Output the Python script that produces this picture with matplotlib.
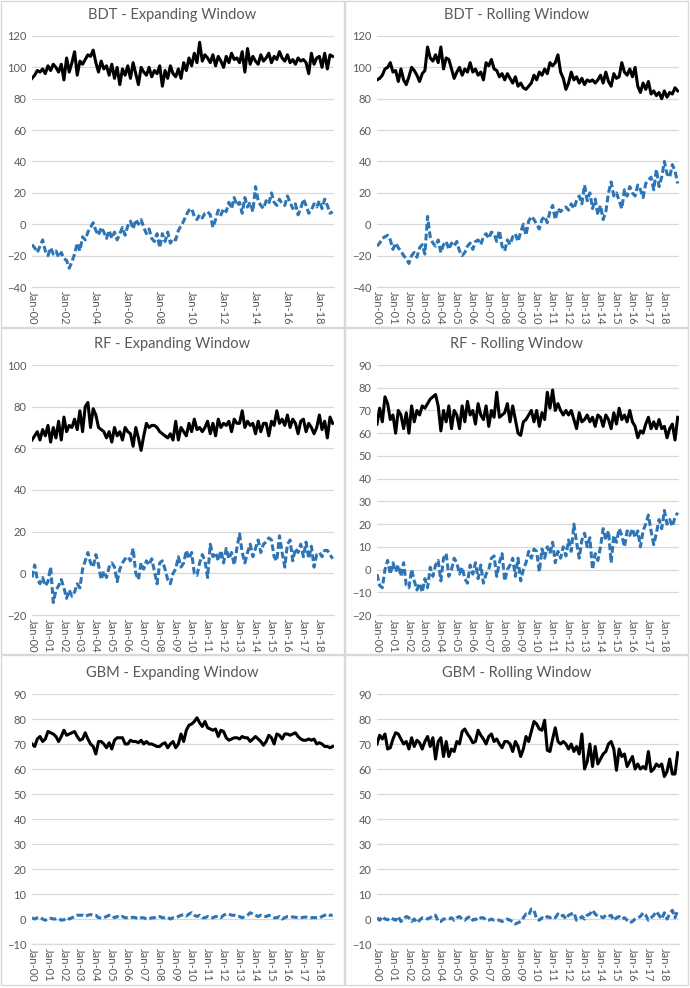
import numpy as np
import matplotlib.pyplot as plt
from matplotlib.patches import Rectangle

# values, one every two months from Jan-00 (6 per year)
bdt_exp_black = [93, 95, 98, 97, 99, 96,
                 101, 98, 102, 100, 97, 102,
                 92, 106, 97, 103, 110, 95,
                 104, 102, 105, 108, 107, 111,
                 103, 97, 104, 99, 101, 95,
                 102, 93, 100, 89, 99, 95,
                 101, 93, 103, 96, 89, 100,
                 97, 95, 100, 94, 98, 96,
                 101, 88, 98, 93, 101, 96,
                 94, 99, 93, 103, 98, 106,
                 101, 109, 103, 116, 104, 108,
                 106, 103, 108, 101, 107, 104,
                 100, 107, 103, 109, 105, 106,
                 103, 110, 97, 112, 102, 107,
                 104, 102, 108, 104, 106, 109,
                 103, 107, 105, 110, 106, 104,
                 108, 103, 105, 102, 106, 104,
                 105, 103, 96, 109, 102, 106,
                 107, 100, 109, 99, 108, 107]
bdt_exp_blue = [-13, -15, -18, -14, -10, -17,
                -20, -15, -19, -17, -21, -18,
                -22, -23, -28, -24, -19, -12,
                -17, -8, -10, -5, -2, 1,
                -4, -7, -2, -5, -9, -4,
                -9, -5, -10, -6, -2, -7,
                -1, 2, -3, 3, 0, 3,
                -2, -6, -3, -9, -11, -6,
                -15, -6, -11, -5, -12, -9,
                -10, -4, -1, 2, 6, 9,
                10, 5, 3, 6, 4, 7,
                8, 6, -2, 3, 9, 6,
                10, 8, 14, 10, 17, 12,
                14, 7, 17, 11, 14, 8,
                24, 15, 12, 10, 15, 13,
                20, 14, 12, 16, 13, 12,
                18, 14, 10, 13, 6, 10,
                16, 12, 7, 9, 13, 11,
                15, 10, 16, 12, 7, 8]

bdt_roll_black = [92, 93, 95, 99, 100, 103,
                  97, 98, 91, 99, 92, 89,
                  94, 100, 98, 95, 91, 96,
                  98, 113, 106, 104, 108, 103,
                  113, 99, 106, 105, 99, 93,
                  97, 100, 95, 99, 97, 103,
                  97, 99, 95, 97, 92, 103,
                  101, 105, 99, 98, 94, 96,
                  92, 96, 93, 90, 94, 88,
                  90, 87, 86, 88, 90, 95,
                  92, 97, 95, 99, 96, 103,
                  101, 103, 108, 97, 93, 86,
                  90, 97, 92, 94, 90, 93,
                  89, 92, 91, 92, 90, 92,
                  95, 90, 97, 91, 88, 96,
                  93, 94, 103, 97, 95, 99,
                  94, 100, 88, 84, 90, 86,
                  91, 83, 85, 82, 84, 80,
                  85, 81, 84, 83, 87, 85]
bdt_roll_blue = [-14, -12, -9, -8, -7, -10,
                 -16, -12, -15, -17, -20, -22,
                 -25, -20, -18, -21, -15, -13,
                 -19, 5, -8, -12, -14, -10,
                 -18, -13, -11, -16, -12, -14,
                 -11, -17, -20, -18, -14, -12,
                 -16, -11, -10, -13, -8, -6,
                 -9, -5, -6, -11, -4, -14,
                 -17, -10, -13, -8, -6, -11,
                 -5, 0, -7, 2, 5, 3,
                 0, -3, 3, 5, 1, 8,
                 12, 3, 10, 8, 10, 11,
                 9, 13, 10, 15, 18, 13,
                 25, 15, 20, 10, 16, 6,
                 12, 3, 8, 20, 27, 18,
                 20, 15, 10, 22, 18, 24,
                 20, 18, 25, 22, 17, 26,
                 28, 30, 22, 35, 24, 30,
                 40, 32, 30, 38, 34, 26]

rf_exp_black = [64, 66, 68, 64, 69, 66,
                71, 63, 70, 65, 73, 64,
                75, 68, 71, 70, 74, 69,
                78, 68, 80, 82, 70, 79,
                76, 70, 69, 68, 65, 68,
                63, 70, 66, 68, 64, 70,
                68, 67, 61, 70, 65, 59,
                66, 72, 70, 71, 71, 70,
                68, 67, 66, 65, 67, 64,
                73, 64, 70, 68, 66, 72,
                68, 74, 69, 70, 68, 70,
                73, 67, 72, 66, 74, 70,
                72, 71, 73, 68, 74, 72,
                72, 78, 70, 73, 71, 72,
                67, 73, 68, 72, 72, 66,
                73, 71, 78, 72, 74, 71,
                76, 70, 74, 72, 67, 73,
                74, 68, 72, 70, 67, 70,
                76, 69, 73, 65, 75, 72]
rf_exp_blue = [-2, 4, -3, -5, -2, -6,
               -4, 3, -14, -8, -6, -3,
               -7, -12, -8, -11, -9, -5,
               -7, 2, 6, 10, 5, 3,
               9, 4, -3, 1, -2, 3,
               5, 3, -4, 2, 5, 7,
               8, 6, 12, 0, -3, 5,
               2, 6, 4, 7, 1, -5,
               5, 6, 2, -3, -5, 0,
               2, 8, 3, 5, 11, 7,
               10, 0, -1, 5, 9, 6,
               -2, 14, 8, 10, 6, 11,
               5, 12, 7, 10, 4, 12,
               19, 10, 5, 10, 14, 8,
               12, 16, 10, 14, 15, 17,
               16, 8, 6, 18, 10, 3,
               14, 16, 6, 12, 10, 14,
               8, 15, 7, 13, 3, 9,
               10, 8, 11, 11, 9, 7]

rf_roll_black = [64, 71, 65, 76, 73, 66,
                 68, 60, 70, 68, 62, 69,
                 60, 72, 65, 70, 68, 72,
                 71, 73, 75, 76, 77, 72,
                 61, 70, 65, 72, 62, 70,
                 68, 62, 72, 65, 74, 68,
                 70, 64, 73, 68, 66, 72,
                 63, 70, 67, 78, 67, 68,
                 69, 73, 65, 72, 66, 60,
                 59, 65, 66, 68, 70, 65,
                 70, 63, 69, 66, 78, 71,
                 79, 70, 73, 70, 68, 70,
                 68, 70, 66, 62, 69, 65,
                 66, 68, 65, 67, 63, 68,
                 67, 63, 68, 66, 62, 69,
                 64, 71, 66, 68, 65, 70,
                 65, 63, 58, 61, 60, 64,
                 67, 62, 65, 62, 66, 62,
                 63, 58, 62, 64, 57, 67]
rf_roll_blue = [-2, -7, -8, 0, 4, -2,
                3, -1, 2, -3, 3, -7,
                -8, 0, -5, -9, -6, -10,
                -4, -8, 1, -3, 2, 4,
                -5, 5, 7, -3, 0, 5,
                3, -2, 1, -4, -6, 2,
                -2, 3, -4, 2, -6, -2,
                0, 5, 6, -3, 3, 7,
                -5, 0, 2, 5, -3, 5,
                -5, 0, 3, 8, 5, 9,
                8, -1, 9, 5, 10, 7,
                12, 3, 8, 5, 10, 6,
                13, 8, 20, 12, 5, 13,
                16, 10, 14, 0, 7, 4,
                10, 18, 13, 17, 3, 15,
                12, 18, 15, 10, 17, 15,
                18, 14, 17, 10, 17, 20,
                24, 17, 11, 16, 22, 18,
                26, 20, 22, 19, 23, 25]

gbm_exp_black = [70, 69, 72, 73, 71, 72,
                 75, 74.5, 74, 73, 71, 73,
                 75.5, 73.5, 74, 74.5, 75, 73,
                 71.5, 72, 74.5, 72, 70, 69,
                 66, 71, 71, 70, 68.5, 70.5,
                 68, 71.5, 72.5, 72.5, 72.5, 70,
                 70, 71.5, 71, 71, 70.5, 71.5,
                 70, 71, 70, 70, 69.5, 69,
                 69, 70, 70.5, 68.5, 70, 71,
                 68.5, 70, 74, 71, 75.5, 77.5,
                 78, 79, 80.5, 78.5, 77, 79,
                 76.5, 76, 75.5, 76, 73, 75.5,
                 75, 72.5, 71.5, 72, 72.5, 72.5,
                 72, 73, 72.5, 72.5, 71, 72,
                 73, 72, 71, 69.5, 71, 73.5,
                 72.5, 70, 74, 73.5, 72, 74,
                 74, 73.5, 74, 74.5, 73, 72,
                 71.5, 71.5, 72, 71.5, 72, 70,
                 70.5, 70, 69, 69, 68.5, 69]
gbm_exp_blue = [0.5, 0, 0.5, 0.7, 0, -0.5,
                0, 0.3, 0, 0, 0.2, -0.5,
                -0.3, 0.5, 0, 0.5, 1, 1.5,
                1.5, 1.5, 1, 1.5, 1.8, 1.5,
                1.5, 0.5, 0.5, 0.5, 1, 1.5,
                1.5, 0.5, 1, 0.5, 1, 0.5,
                0.5, 0.5, 0.7, 0.5, 0, 0.5,
                0.5, 0, 0, 0.5, 0.5, 1,
                1, 0.5, 0.5, 0.7, 0, 0.5,
                0.5, 1, 1.5, 1.7, 1.2, 2,
                2.5, 1.5, 1, 1.5, 0.5, 0.5,
                1, 0.5, 0.5, 1, 1, 0.5,
                1.5, 2, 2, 1.5, 1.5, 1,
                1, 0.5, 1, 1.5, 2.5, 2,
                1.5, 1, 1.5, 1, 1, 1.5,
                1, 0.5, 0.5, 1, 0, 0.5,
                1, 1, 0.8, 0.7, 0.5, 0.5,
                0.7, 0.8, 0.5, 0.5, 0.6, 0.5,
                0.5, 1, 1.5, 2, 1.5, 1.5]

gbm_roll_black = [70, 73.5, 72, 74, 68, 68.5,
                  72, 74.5, 74, 72, 70, 71,
                  68, 72.5, 69, 71.5, 70.5, 68,
                  71, 73, 69, 72.5, 64, 71,
                  72.5, 65, 71, 65, 68, 67,
                  71, 70, 75, 76, 74, 72.5,
                  70.5, 71, 75.5, 73.5, 72, 70,
                  73, 74, 71, 72, 70, 68.5,
                  71, 71, 70, 67, 71, 69,
                  65, 68, 73, 71, 75, 79,
                  78, 76, 75.5, 79.5, 67.5, 67,
                  72, 76.5, 71, 70, 71, 70,
                  68, 70, 67, 69, 66, 74,
                  60, 63, 70, 61, 69, 62,
                  64, 66, 67, 70, 71, 68,
                  59.5, 68, 65, 66, 61, 63,
                  65, 60, 62, 60, 61, 60,
                  67, 59, 60, 62, 61, 62,
                  57, 59, 64, 58, 58, 66.5]
gbm_roll_blue = [0.5, -0.5, 1, 0, -0.3, 0.5,
                 0, -0.5, 1, -1, 0, 1,
                 0.5, -1, 0, -1.5, -0.5, 0.5,
                 0.5, 0, 0.5, 1.5, 1.5, -1,
                 -1, 0, 0, 0, 0.5, -0.5,
                 0.5, 1, 0, -0.5, 0.5, 1,
                 -0.5, 0, -0.5, 0.5, 0.5, -0.5,
                 -0.5, 0, -0.5, -0.3, -0.5, -1,
                 -0.5, 0, -0.5, -1, -2, -1.5,
                 -1, 0.5, 2, 1.5, 4, 3.5,
                 0, -0.5, 0.5, 0, 1, 0.5,
                 1, 0.5, 2, 1, 1.5, 0,
                 1.5, 2, 2.5, -0.5, 0, 1,
                 0, 1.5, 2, 3.5, 2, 1,
                 1, 0.5, 1.5, 1, 1.5, -0.5,
                 0.5, 1, 0, 0.5, -0.5, -1.5,
                 -1, 0, 0.5, 1, 2.5, 1.5,
                 -0.5, 0.5, 1.5, 3, 1.5, 0,
                 2.5, 0, 2, 3.5, 0.5, 3.5]

years = list(range(2000, 2019))
tick_labels = ["Jan-%02d" % (y % 100) for y in years]
months = np.arange(len(bdt_exp_black)) * 2

GREY = "#595959"
GRID = "#d9d9d9"
BLUE = "#2e75b6"
plt.rcParams['font.family'] = ['Lato', 'DejaVu Sans']

W, H = 690, 988
fig = plt.figure(figsize=(W / 100, H / 100), dpi=100)

# panel frames (pixels: x0, y0, x1, y1)
cols = [(1, 344), (345, 688)]
rows = [(1, 327), (328, 654), (655, 985)]
plot_x = [(32, 334), (377, 679)]
plot_y = [(36, 287), (365, 615), (694, 944)]
title_y = [15, 344, 673]

panels = [
    ("BDT - Expanding Window", bdt_exp_black, bdt_exp_blue, (-40, 120), 20, 2),
    ("BDT - Rolling Window", bdt_roll_black, bdt_roll_blue, (-40, 120), 20, 1),
    ("RF - Expanding Window", rf_exp_black, rf_exp_blue, (-20, 100), 20, 1),
    ("RF - Rolling Window", rf_roll_black, rf_roll_blue, (-20, 90), 10, 1),
    ("GBM - Expanding Window", gbm_exp_black, gbm_exp_blue, (-10, 90), 10, 1),
    ("GBM - Rolling Window", gbm_roll_black, gbm_roll_blue, (-10, 90), 10, 1),
]

for k, (title, black, blue, ylim, ystep, every) in enumerate(panels):
    r, c = divmod(k, 2)
    fx0, fx1 = cols[c]
    fy0, fy1 = rows[r]
    fig.add_artist(Rectangle((fx0 / W, 1 - fy1 / H), (fx1 - fx0) / W, (fy1 - fy0) / H,
                             transform=fig.transFigure, fill=False,
                             edgecolor=GRID, lw=1))

    x0, x1 = plot_x[c]
    y0, y1 = plot_y[r]
    ax = fig.add_axes([x0 / W, 1 - y1 / H, (x1 - x0) / W, (y1 - y0) / H])
    ax.plot(months, black, color="black", lw=2.2, zorder=3)
    ax.plot(months, blue, color=BLUE, lw=2.2, ls=(0, (2.2, 1.0)), zorder=3)

    ax.set_xlim(0, 227)
    ax.set_ylim(*ylim)
    ax.set_yticks(np.arange(ylim[0], ylim[1] + 1, ystep))
    ax.set_xticks([(y - 2000) * 12 for y in years[::every]])
    ax.set_xticklabels(tick_labels[::every], rotation=270)
    ax.tick_params(axis="both", length=0, colors=GREY, labelsize=8)
    ax.tick_params(axis="x", pad=3)
    ax.tick_params(axis="y", pad=4)
    ax.grid(axis="y", color=GRID, lw=0.9)
    ax.set_axisbelow(True)
    for s in ["top", "right", "left"]:
        ax.spines[s].set_visible(False)
    ax.spines["bottom"].set_color(GRID)
    ax.spines["bottom"].set_linewidth(0.9)
    ax.patch.set_alpha(0)

    fig.text((fx0 + fx1) / 2 / W, 1 - title_y[r] / H, title, ha="center", va="center",
             color=GREY, fontsize=10.5)

fig.savefig("out.png", dpi=100)
